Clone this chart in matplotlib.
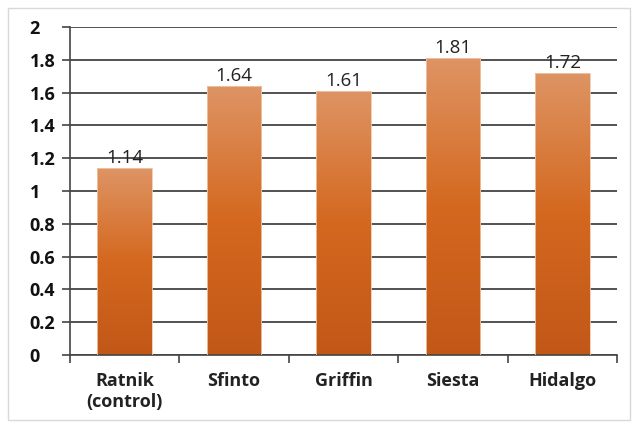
import numpy as np
import matplotlib
matplotlib.use("Agg")
import matplotlib.pyplot as plt
from matplotlib.colors import LinearSegmentedColormap
from matplotlib.patches import Rectangle

# ───── data ─────
categories = ["Ratnik\n(control)", "Sfinto", "Griffin", "Siesta", "Hidalgo"]
values = [1.14, 1.64, 1.61, 1.81, 1.72]
yticks = [0, 0.2, 0.4, 0.6, 0.8, 1, 1.2, 1.4, 1.6, 1.8, 2]
ylabels = ["0", "0.2", "0.4", "0.6", "0.8", "1", "1.2", "1.4", "1.6", "1.8", "2"]

plt.rcParams["font.family"] = ["Open Sans", "DejaVu Sans"]

fig = plt.figure(figsize=(6.35, 4.26), dpi=100)
# light outer frame
fig.patches.append(Rectangle((8/635, 6/426), 622/635, 412/426, transform=fig.transFigure,
                             fill=False, ec="#d9d9d9", lw=1))
ax = fig.add_axes([70/635, 1-355/426, 547/635, 328/426])

x = np.arange(len(values))
bars = ax.bar(x, values, width=0.5, color="none", ec="#f0c8a8", lw=0.6, zorder=3)

# vertical gradient per bar: light top, dark bottom
cmap = LinearSegmentedColormap.from_list("orange", ["#c25818", "#d4681f", "#de9464"])
grad = np.linspace(0, 1, 256).reshape(-1, 1)
for b in bars:
    x0, w, h = b.get_x(), b.get_width(), b.get_height()
    im = ax.imshow(grad, cmap=cmap, aspect="auto", origin="lower",
                   extent=[x0, x0 + w, 0, h], zorder=2)
    im.set_clip_path(b)
    ax.text(x0 + w/2, h + 0.005, f"{h:.2f}", ha="center", va="bottom",
            fontsize=13.5, color="#222222", zorder=4)

ax.set_xlim(-0.5, len(values) - 0.5)
ax.set_ylim(0, 2)
ax.set_yticks(yticks)
ax.set_yticklabels(ylabels, fontsize=13, fontweight="bold", ha="left", color="#111111")
ax.set_xticks(x)
ax.set_xticklabels(categories, fontsize=13, fontweight="bold", color="#222222",
                   linespacing=1.25)
ax.set_xticks(np.arange(-0.5, len(values)), minor=True)
ax.tick_params(axis="x", which="major", length=0, pad=12)
ax.tick_params(axis="x", which="minor", length=6, width=1.2, color="#444444", direction="out")
ax.tick_params(axis="y", length=6, width=1.2, color="#444444", direction="out", pad=23)

ax.grid(axis="y", color="#444444", lw=1.3, zorder=1)
ax.set_axisbelow(True)
for s in ["top", "right"]:
    ax.spines[s].set_visible(False)
ax.spines["left"].set_color("#444444")
ax.spines["left"].set_linewidth(1.2)
ax.spines["bottom"].set_color("#444444")
ax.spines["bottom"].set_linewidth(1.2)

fig.savefig("out.png", dpi=100)
